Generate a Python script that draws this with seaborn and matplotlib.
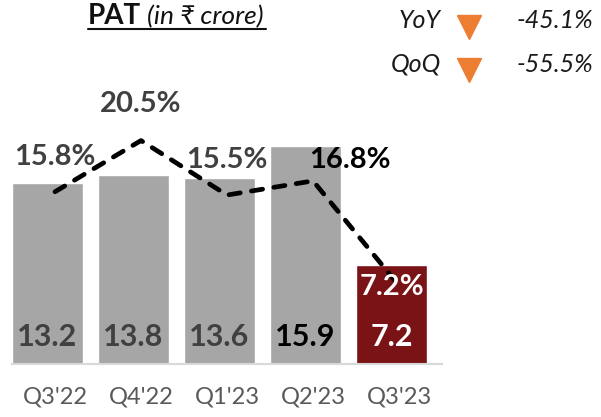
import numpy as np
import pandas as pd
import matplotlib
matplotlib.use('Agg')
import matplotlib.pyplot as plt
from matplotlib.lines import Line2D
import seaborn as sns

# Data
quarters = ["Q3'22", "Q4'22", "Q1'23", "Q2'23", "Q3'23"]
pat = [13.2, 13.8, 13.6, 15.9, 7.2]
margin = [15.8, 20.5, 15.5, 16.8, 7.2]
bar_colors = ['#A6A6A6', '#A6A6A6', '#A6A6A6', '#A6A6A6', '#7A1315']
label_colors = ['#404040', '#404040', '#404040', '#000000', '#FFFFFF']
yoy = '-45.1%'
qoq = '-55.5%'

sns.set_style('white')
plt.rcParams['font.family'] = ['Lato', 'DejaVu Sans']

df = pd.DataFrame({'quarter': quarters, 'pat': pat, 'margin': margin})

W, H = 601, 417
fig = plt.figure(figsize=(W / 100, H / 100), dpi=100)
ax = fig.add_axes([12 / W, (H - 364) / H, 430 / W, 364 / H])

bw = 0.826
sns.barplot(data=df, x='quarter', y='pat', hue='quarter', palette=bar_colors,
            width=bw, legend=False, saturation=1, ax=ax)
ax.set_xlim(-bw / 2, len(quarters) - bw / 2)
ax.set_ylim(0, 364 / 13.7)

# value labels inside bars
for i, v in enumerate(pat):
    ax.text(i, 2.0, f'{v:.1f}', ha='center', va='center', fontsize=22,
            fontweight='bold', color=label_colors[i])

# margin line on secondary axis
ax2 = ax.twinx()
xs = np.arange(len(quarters)) + 0.5 - bw / 2
sns.lineplot(x=xs, y=margin, ax=ax2, color='black', linewidth=3.4)
ln = ax2.lines[0]
ln.set_dashes((2.4, 2.4))
ln.set_dash_capstyle('round')
ax2.set_ylim(0, 364 / 10.9)

offsets = [(0, 35), (0, 37), (0, 35), (37, 21), (-7, -1)]
for i, v in enumerate(margin):
    ax2.annotate(f'{v:.1f}%', xy=(xs[i], v), xytext=offsets[i],
                 textcoords='offset pixels', ha='center', va='center',
                 fontsize=21, fontweight='bold', color=label_colors[i])

# axes styling
for a in (ax, ax2):
    for s in ['top', 'left', 'right']:
        a.spines[s].set_visible(False)
    a.set_yticks([])
    a.set_ylabel('')
ax2.spines['bottom'].set_visible(False)
ax.spines['bottom'].set_color('#D9D9D9')
ax.spines['bottom'].set_linewidth(1.5)
ax.set_xlabel('')
ax.set_xticks(xs)
ax.set_xticklabels(quarters, fontsize=17, color='#595959')
ax.tick_params(axis='x', which='major', length=0, pad=16)
ax.set_xticks(np.arange(len(quarters) + 1) - bw / 2, minor=True)
ax.tick_params(axis='x', which='minor', length=6.5, width=1.5, color='#D9D9D9')

# title
fig.text(88 / W, 1 - 24 / H, 'PAT', fontsize=20, fontweight='bold',
         va='baseline', ha='left', color='#111111')
fig.text(147 / W, 1 - 24 / H, '(in ₹ crore)', fontsize=19, style='italic',
         va='baseline', ha='left', color='#111111')
fig.add_artist(Line2D([88 / W, 266 / W], [1 - 29 / H] * 2,
                      transform=fig.transFigure, color='#111111', lw=1.5))

# change indicators
for yc, name, val in [(21, 'YoY', yoy), (64, 'QoQ', qoq)]:
    fig.text(441 / W, 1 - yc / H, name, fontsize=18, style='italic',
             ha='right', va='center', color='#1a1a1a')
    fig.text(593 / W, 1 - yc / H, val, fontsize=18, style='italic',
             ha='right', va='center', color='#1a1a1a')
    fig.add_artist(Line2D([469 / W], [1 - (yc + 6) / H], marker='v',
                          markersize=17, color='#ED7D31', linestyle='none',
                          transform=fig.transFigure))

fig.savefig('out.png', dpi=100)
